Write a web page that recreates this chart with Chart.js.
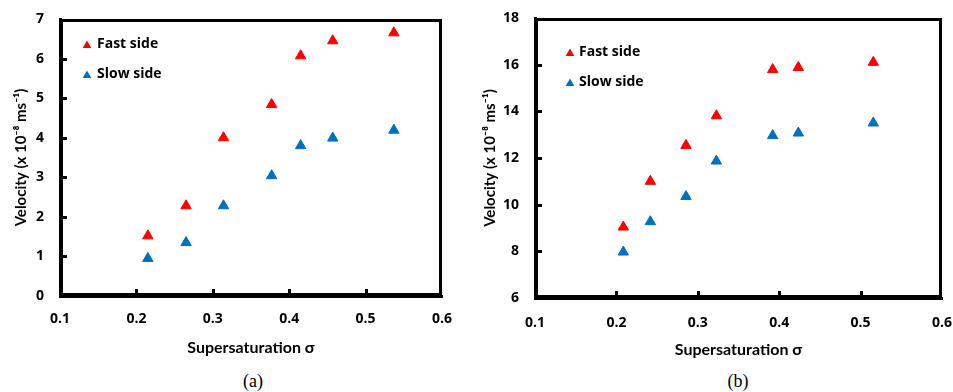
<!DOCTYPE html>
<html>
<head>
<meta charset="utf-8">
<script src="https://cdn.jsdelivr.net/npm/chart.js@4/dist/chart.umd.min.js"></script>
<style>
  html, body { margin: 0; padding: 0; background: #fff; }
  #wrap { position: relative; width: 953px; height: 392px; background: #fff; overflow: hidden; }
  .box { position: absolute; top: 0; height: 365px; }
  .cap { position: absolute; top: 370px; width: 60px; text-align: center; font-family: "Liberation Serif", "Times New Roman", serif; font-size: 18px; line-height: 22px; color: #000; }
  .frame { position: absolute; box-sizing: border-box; border: 3px solid #000; pointer-events: none; }
  .tk { position: absolute; background: #000; pointer-events: none; }
</style>
</head>
<body>
<div id="wrap">
  <div class="box" id="boxA" style="left:0;width:480px;"><canvas id="ca"></canvas></div>
  <div class="box" id="boxB" style="left:480px;width:473px;"><canvas id="cb"></canvas></div>
  <div class="cap" style="left:223px;">(a)</div>
  <div class="cap" style="left:708px;">(b)</div>
</div>
<script>
// ---------- data ----------
const seriesNames = ['Fast side', 'Slow side'];
const seriesColors = ['#FF0000', '#0070C0'];

// Panel (a)
const sigmaA = [0.215, 0.265, 0.314, 0.377, 0.415, 0.457, 0.537];
const fastA  = [1.52, 2.28, 4.0, 4.84, 6.07, 6.45, 6.65];
const slowA  = [0.95, 1.35, 2.28, 3.04, 3.80, 3.99, 4.19];
const xTicksA = ['0.1', '0.2', '0.3', '0.4', '0.5', '0.6'];
const yTicksA = ['0', '1', '2', '3', '4', '5', '6', '7'];

// Panel (b)
const sigmaB = [0.2085, 0.2417, 0.2855, 0.3228, 0.392, 0.4235, 0.5156];
const fastB  = [9.04, 11.0, 12.54, 13.81, 15.79, 15.88, 16.1];
const slowB  = [7.97, 9.27, 10.35, 11.87, 12.96, 13.07, 13.5];
const xTicksB = ['0.1', '0.2', '0.3', '0.4', '0.5', '0.6'];
const yTicksB = ['6', '8', '10', '12', '14', '16', '18'];

const xTitle = 'Supersaturation σ';
const yTitle = 'Velocity (x 10⁻⁸ ms⁻¹)';

// ---------- helpers ----------
const FONT = '"Open Sans", Lato, "Liberation Sans", sans-serif';
const TFONT = 'Lato, "Open Sans", "Liberation Sans", sans-serif';

function pts(xs, ys) { return xs.map((x, i) => ({ x: x, y: ys[i] })); }

function drawTri(ctx, x, y, r, color) {
  ctx.save();
  ctx.fillStyle = color;
  ctx.beginPath();
  let rad = 0;
  ctx.moveTo(x + Math.sin(rad) * r, y - Math.cos(rad) * r);
  rad += 2 * Math.PI / 3;
  ctx.lineTo(x + Math.sin(rad) * r, y - Math.cos(rad) * r);
  rad += 2 * Math.PI / 3;
  ctx.lineTo(x + Math.sin(rad) * r, y - Math.cos(rad) * r);
  ctx.closePath();
  ctx.fill();
  ctx.restore();
}

// plot frame + inner tick marks, positioned from the chart's own chartArea and scales
function placeFrame(chart, box) {
  const a = chart.chartArea;
  const xs = chart.scales.x, ys = chart.scales.y;
  if (chart._ov) chart._ov.forEach(el => el.remove());
  chart._ov = [];
  const L = Math.round(a.left), R = Math.round(a.right), T = Math.round(a.top), B = Math.round(a.bottom);
  const f = document.createElement('div');
  f.className = 'frame';
  f.style.left = L + 'px'; f.style.top = T + 'px';
  f.style.width = (R - L) + 'px'; f.style.height = (B - T) + 'px';
  box.appendChild(f); chart._ov.push(f);
  xs.ticks.forEach(t => {
    const px = Math.round(xs.getPixelForValue(t.value));
    if (px <= L + 3 || px >= R - 3) return;
    const d = document.createElement('div');
    d.className = 'tk';
    d.style.left = (px - 1) + 'px'; d.style.top = (B - 7) + 'px';
    d.style.width = '3px'; d.style.height = '4px';
    box.appendChild(d); chart._ov.push(d);
  });
  ys.ticks.forEach(t => {
    const py = Math.round(ys.getPixelForValue(t.value));
    if (py <= T + 3 || py >= B - 3) return;
    const d = document.createElement('div');
    d.className = 'tk';
    d.style.left = (L + 3) + 'px'; d.style.top = (py - 1) + 'px';
    d.style.width = '4px'; d.style.height = '3px';
    box.appendChild(d); chart._ov.push(d);
  });
}

const frameLegend = {
  id: 'frameLegend',
  afterDraw(chart, args, opts) {
    const ctx = chart.ctx;
    const a = chart.chartArea;
    ctx.save();
    ctx.font = 'bold 14px ' + FONT;
    ctx.fillStyle = '#000';
    ctx.textBaseline = 'middle';
    ctx.textAlign = 'left';
    chart.data.datasets.forEach((ds, i) => {
      const cy = a.top + opts.dy + i * opts.gap;
      drawTri(ctx, a.left + opts.dx, cy + 1.5, 5, ds.backgroundColor);
      ctx.fillText(ds.label, a.left + opts.tx, cy);
    });
    ctx.restore();
  },
  afterRender(chart) {
    placeFrame(chart, chart.canvas.parentNode);
  }
};

function noPad(s) { s.paddingTop = 0; s.paddingBottom = 0; s.paddingLeft = 0; s.paddingRight = 0; }

function makeChart(id, cfg) {
  return new Chart(document.getElementById(id), {
    type: 'scatter',
    data: {
      datasets: [
        { label: seriesNames[0], data: pts(cfg.sigma, cfg.fast), backgroundColor: seriesColors[0], borderColor: seriesColors[0],
          pointStyle: 'triangle', pointRadius: 6, pointBorderWidth: 1, pointHoverRadius: 6 },
        { label: seriesNames[1], data: pts(cfg.sigma, cfg.slow), backgroundColor: seriesColors[1], borderColor: seriesColors[1],
          pointStyle: 'triangle', pointRadius: 6, pointBorderWidth: 1, pointHoverRadius: 6 }
      ]
    },
    options: {
      responsive: true,
      maintainAspectRatio: false,
      animation: false,
      layout: { padding: { left: 0, right: cfg.padRight, top: cfg.padTop, bottom: 0 } },
      plugins: {
        legend: { display: false },
        tooltip: { enabled: false },
        frameLegend: cfg.legend
      },
      scales: {
        x: {
          type: 'linear', position: 'bottom', min: 0.1, max: 0.6,
          ticks: { stepSize: 0.1, color: '#000', padding: cfg.xTickPad,
                   font: { family: FONT, size: 14, weight: 'bold' },
                   callback: (v, i) => cfg.xTicks[i] },
          grid: { display: false, drawTicks: false },
          border: { display: true, width: 3, color: '#000' },
          title: { display: true, text: xTitle, color: '#000',
                   font: { family: TFONT, size: 16, weight: 'bold' },
                   padding: { top: 0, bottom: cfg.xTitlePad } },
          afterFit: s => { s.height = cfg.xAxisH; noPad(s); }
        },
        y: {
          type: 'linear', position: 'left', min: cfg.yMin, max: cfg.yMax,
          ticks: { stepSize: cfg.yStep, color: '#000', padding: 16,
                   font: { family: FONT, size: 14, weight: 'bold' },
                   callback: (v, i) => cfg.yTicks[i] },
          grid: { display: false, drawTicks: false },
          border: { display: true, width: 3, color: '#000' },
          title: { display: true, text: yTitle, color: '#000',
                   font: { family: TFONT, size: 15, weight: 'bold' },
                   padding: { top: cfg.yTitlePad, bottom: 0 } },
          afterFit: s => { s.width = cfg.yAxisW; noPad(s); }
        }
      }
    },
    plugins: [frameLegend]
  });
}

makeChart('ca', {
  sigma: sigmaA, fast: fastA, slow: slowA, xTicks: xTicksA, yTicks: yTicksA,
  yMin: 0, yMax: 7, yStep: 1,
  padRight: 38, padTop: 19, xAxisH: 69, yAxisW: 60,
  xTickPad: 15, xTitlePad: 8, yTitlePad: 12,
  legend: { dx: 27, tx: 37, dy: 25, gap: 30 }
});

makeChart('cb', {
  sigma: sigmaB, fast: fastB, slow: slowB, xTicks: xTicksB, yTicks: yTicksB,
  yMin: 6, yMax: 18, yStep: 2,
  padRight: 11, padTop: 18, xAxisH: 67, yAxisW: 55,
  xTickPad: 17, xTitlePad: 6, yTitlePad: 1,
  legend: { dx: 35, tx: 44, dy: 34, gap: 30 }
});
</script>
</body>
</html>
